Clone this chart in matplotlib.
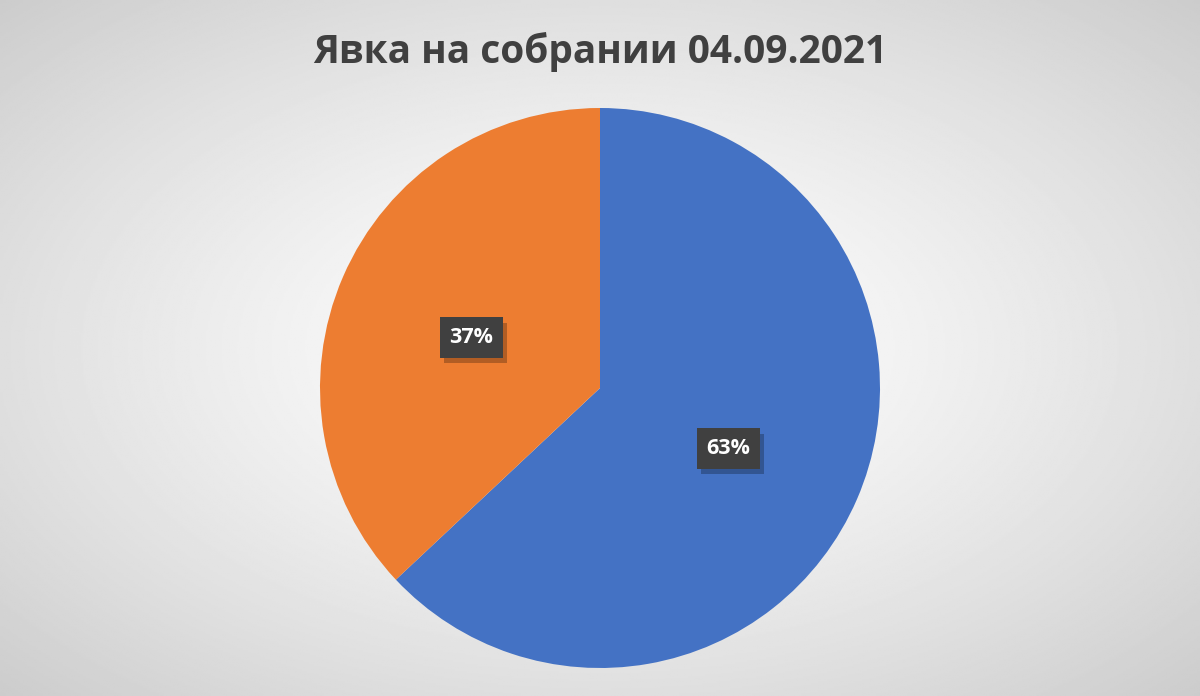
import numpy as np
import matplotlib
matplotlib.use("Agg")
import matplotlib.pyplot as plt
import matplotlib.patheffects as pe

title = "Явка на собрании 04.09.2021"
labels = ["Явились", "Не явились"]
shares = [63, 37]
colors = ["#4472C4", "#ED7D31"]

fig = plt.figure(figsize=(12, 6.96), dpi=100)

# radial gradient background
bg = fig.add_axes([0, 0, 1, 1])
yy, xx = np.mgrid[-1:1:400j, -1:1:690j]
r = np.sqrt(xx**2 + yy**2) / np.sqrt(2)
grad = 1.0 - 0.2 * r**1.3
bg.imshow(grad, cmap="gray", vmin=0, vmax=1, aspect="auto", extent=[0, 1, 0, 1])
bg.axis("off")

ax = fig.add_axes([320 / 1200, 28 / 696, 560 / 1200, 560 / 696])
wedges, texts, autotexts = ax.pie(
    shares, colors=colors, startangle=90, counterclock=False,
    autopct="%1.0f%%", pctdistance=0.5,
    wedgeprops=dict(linewidth=0),
    textprops=dict(color="white", fontsize=15.5, fontweight="bold", family="Open Sans"),
)
ax.set_xlim(-1, 1)
ax.set_ylim(-1, 1)
ax.set_aspect("equal")
for t in autotexts:
    x, y = t.get_position()
    t.set_position((x, y - 0.018))
    t.set_bbox(dict(boxstyle="square,pad=0.45", facecolor="#404040", edgecolor="none"))
    t.get_bbox_patch().set_path_effects(
        [pe.SimplePatchShadow(offset=(3, -4), shadow_rgbFace="black", alpha=0.25), pe.Normal()]
    )

fig.text(0.5, 1 - 52 / 696, title, ha="center", va="center", fontsize=28,
         fontweight="bold", color="#404040", family="Open Sans")

fig.savefig("out.png", dpi=100)
